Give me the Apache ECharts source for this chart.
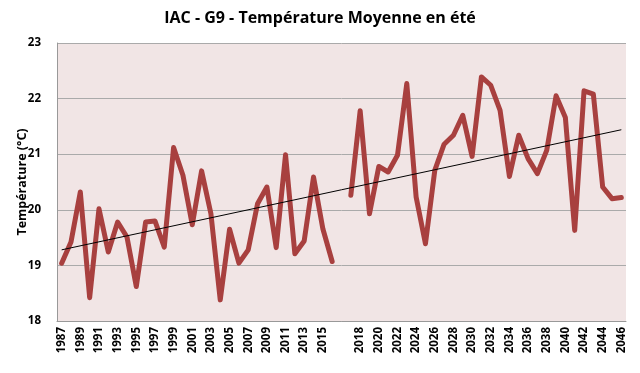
<!DOCTYPE html>
<html><head><meta charset="utf-8">
<script src="https://cdn.jsdelivr.net/npm/echarts@6/dist/echarts.min.js"></script>
<style>html,body{margin:0;padding:0;background:#fff}#c{width:640px;height:373px}</style>
</head><body><div id="c"></div>
<script>
const years = ["1987","1988","1989","1990","1991","1992","1993","1994","1995","1996","1997","1998","1999","2000","2001","2002","2003","2004","2005","2006","2007","2008","2009","2010","2011","2012","2013","2014","2015","2016","",
"2017","2018","2019","2020","2021","2022","2023","2024","2025","2026","2027","2028","2029","2030","2031","2032","2033","2034","2035","2036","2037","2038","2039","2040","2041","2042","2043","2044","2045","2046"];
const temps = [19.04,19.42,20.32,18.42,20.02,19.24,19.78,19.51,18.62,19.78,19.80,19.33,21.12,20.62,19.73,20.70,19.93,18.38,19.65,19.04,19.28,20.11,20.41,19.32,20.99,19.21,19.44,20.59,19.66,19.07,null,
20.26,21.78,19.93,20.78,20.68,20.98,22.27,20.23,19.39,20.71,21.18,21.34,21.70,20.96,22.39,22.24,21.79,20.60,21.34,20.92,20.65,21.07,22.05,21.66,19.63,22.14,22.08,20.41,20.20,20.22];
const trendStart = 19.28, trendEnd = 21.44;
const yTicks = [18,19,20,21,22,23];

const trend = years.map((_, i) => i === 0 ? trendStart : (i === years.length - 1 ? trendEnd : null));
const chart = echarts.init(document.getElementById('c'));
const font = '"Open Sans", Lato, sans-serif';
chart.setOption({
  animation: false,
  title: { text: 'IAC - G9 - Température Moyenne en été', left: 'center', top: 5,
    textStyle: { fontFamily: font, fontSize: 16, fontWeight: 'bold', color: '#000' } },
  grid: { left: 57, right: 14, top: 43, bottom: 52, show: true, backgroundColor: '#f1e5e5', borderWidth: 0,
    containLabel: false, outerBoundsMode: 'none' },
  xAxis: { type: 'category', data: years, boundaryGap: true,
    axisLine: { lineStyle: { color: '#999', width: 1 } }, axisTick: { show: false },
    axisLabel: { interval: 1, rotate: 90, color: '#000', fontWeight: 'bold', fontSize: 11.5, fontFamily: font, margin: 6 } },
  yAxis: { type: 'value', min: yTicks[0], max: yTicks[yTicks.length-1], interval: 1,
    name: 'Température (°C)', nameLocation: 'middle', nameGap: 28, nameRotate: 90, nameMoveOverlap: false,
    nameTextStyle: { fontFamily: font, fontSize: 12.5, fontWeight: 'bold', color: '#000' },
    axisLine: { show: true, lineStyle: { color: '#999' } }, axisTick: { show: false },
    splitLine: { lineStyle: { color: '#aaa', width: 1 } },
    axisLabel: { color: '#000', fontWeight: 'bold', fontSize: 11.5, fontFamily: font, margin: 16 } },
  series: [
    { type: 'line', data: temps, symbol: 'none', connectNulls: false,
      lineStyle: { color: '#a8403f', width: 5, join: 'round', cap: 'round' }, z: 2 },
    { type: 'line', data: trend, symbol: 'none', connectNulls: true,
      lineStyle: { color: '#000', width: 1 }, z: 3 }
  ]
});
</script></body></html>
